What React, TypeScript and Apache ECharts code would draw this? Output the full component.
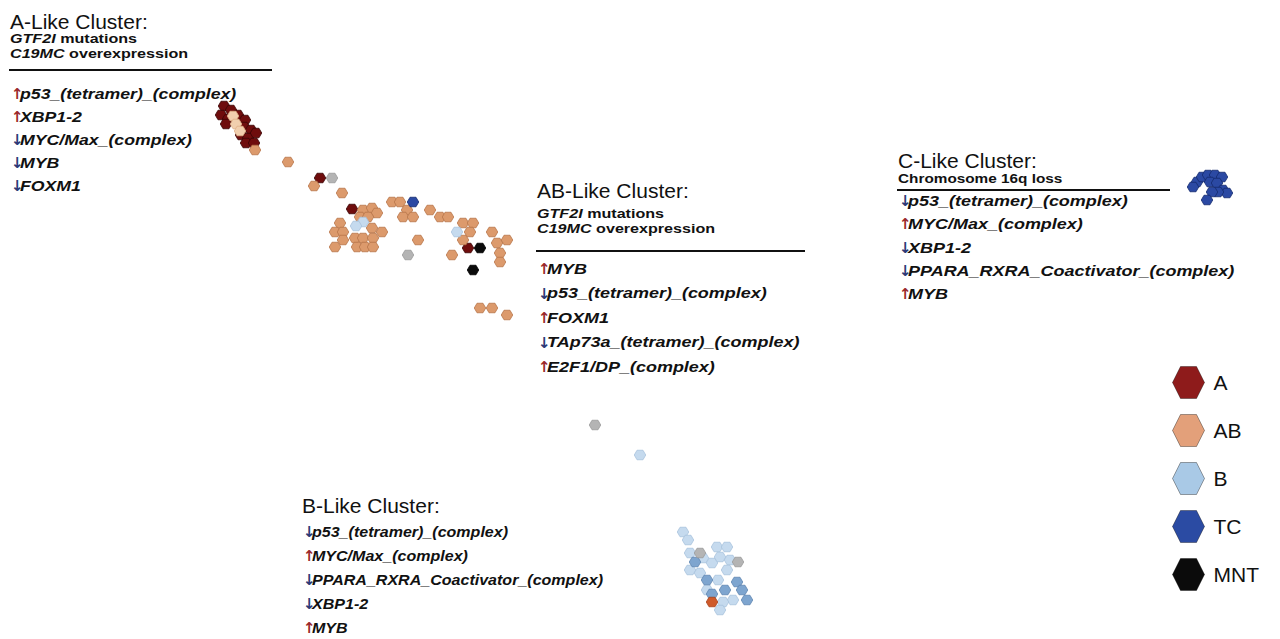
import React, { useEffect, useRef } from "react";
import * as echarts from "echarts";

// ---------- data ----------
const categories = ["A", "AB", "B", "TC", "MNT"];
const categoryColors = ["#8e1b1b", "#e3a07a", "#a9c9e6", "#2b4ba3", "#0b0b0b"];

const aPoints: number[][] = [
  [224, 106], [231, 110], [221, 115], [228, 119], [238, 115], [245, 120],
  [226, 124], [244, 127], [251, 130], [241, 135], [248, 138], [256, 133],
  [246, 143], [254, 143], [320, 178], [352, 209], [468, 248],
];
const abPalePoints: number[][] = [[233, 116], [236, 124], [240, 131]];
const abPoints: number[][] = [
  [255, 150], [288, 162], [314, 186], [342, 193], [392, 202], [400, 202],
  [407, 210], [403, 217], [413, 217], [430, 210], [440, 217], [448, 217],
  [463, 223], [473, 223], [470, 232], [492, 232], [463, 240], [418, 240],
  [452, 255], [497, 243], [507, 240], [500, 253], [500, 262], [480, 308],
  [492, 308], [507, 315],
  [363, 210], [372, 208], [377, 213], [360, 217], [368, 217], [340, 223],
  [335, 232], [343, 232], [372, 228], [382, 232], [355, 238], [363, 238],
  [373, 238], [343, 240], [335, 247], [357, 247], [365, 247], [373, 247],
];
const bPoints: number[][] = [
  [363, 222], [356, 226], [457, 232], [640, 455],
  [683, 532], [688, 540], [690, 553], [703, 558], [712, 563], [717, 547],
  [727, 547], [720, 557], [730, 560], [690, 570], [700, 573], [718, 580],
  [733, 600], [723, 602], [720, 610], [707, 590], [727, 570],
];
const bDarkPoints: number[][] = [
  [695, 562], [707, 580], [725, 590], [737, 582], [742, 590], [747, 600],
  [712, 594],
];
const greyPoints: number[][] = [
  [332, 178], [408, 255], [595, 425], [738, 562], [700, 553],
];
const orangePoints: number[][] = [[712, 602]];
const tcPoints: number[][] = [
  [413, 202],
  [1197, 182], [1202, 177], [1208, 175], [1215, 175], [1222, 177],
  [1210, 182], [1217, 183], [1223, 190], [1227, 193], [1218, 192],
  [1212, 192], [1207, 200], [1193, 187],
];
const mntPoints: number[][] = [[480, 248], [473, 270]];

const aTitle = "A-Like Cluster:";
const aSub = [["GTF2I", " mutations"], ["C19MC", " overexpression"]];
const aGenes = ["p53_(tetramer)_(complex)", "XBP1-2", "MYC/Max_(complex)", "MYB", "FOXM1"];
const aDirs = ["up", "up", "down", "down", "down"];

const abTitle = "AB-Like Cluster:";
const abSub = [["GTF2I", " mutations"], ["C19MC", " overexpression"]];
const abGenes = ["MYB", "p53_(tetramer)_(complex)", "FOXM1", "TAp73a_(tetramer)_(complex)", "E2F1/DP_(complex)"];
const abDirs = ["up", "down", "up", "down", "up"];

const cTitle = "C-Like Cluster:";
const cSub = [["", "Chromosome 16q loss"]];
const cGenes = ["p53_(tetramer)_(complex)", "MYC/Max_(complex)", "XBP1-2", "PPARA_RXRA_Coactivator_(complex)", "MYB"];
const cDirs = ["down", "up", "down", "down", "up"];

const bTitle = "B-Like Cluster:";
const bGenes = ["p53_(tetramer)_(complex)", "MYC/Max_(complex)", "PPARA_RXRA_Coactivator_(complex)", "XBP1-2", "MYB"];
const bDirs = ["down", "up", "down", "down", "up"];

// ---------- helpers ----------
const HEX = "path://M0,5 L2.9,0 L9.1,0 L12,5 L9.1,10 L2.9,10 Z";
const HEX_LEGEND = "path://M0,10 L5,0 L15,0 L20,10 L15,20 L5,20 Z";
const FONT = "'Liberation Sans', Arial, Helvetica, sans-serif";

function block(x: number, y: number, title: string, sub: string[][], genes: string[], dirs: string[],
  opts: { subY: number; subGap: number; subScale: number; lineY?: number; lineX2?: number; geneY: number; geneGap: number; geneScale: number }) {
  const els: any[] = [];
  els.push({
    type: "text", silent: true, x, y,
    style: { text: title, x: 0, y: 0, font: `21px ${FONT}`, fill: "#111", verticalAlign: "middle" },
  });
  sub.forEach((s, i) => {
    els.push({
      type: "text", silent: true, x, y: opts.subY + i * opts.subGap, scaleX: opts.subScale,
      style: {
        text: (s[0] ? `{i|${s[0]}}` : "") + `{b|${s[1]}}`,
        x: 0, y: 0, verticalAlign: "middle",
        rich: {
          i: { font: `italic bold 13px ${FONT}`, fill: "#111" },
          b: { font: `bold 13px ${FONT}`, fill: "#111" },
        },
      },
    });
  });
  if (opts.lineY !== undefined) {
    els.push({
      type: "line", silent: true,
      shape: { x1: x < 10 ? 0 : x - 1, y1: opts.lineY, x2: opts.lineX2, y2: opts.lineY },
      style: { stroke: "#111", lineWidth: 2 },
    });
  }
  genes.forEach((g, i) => {
    const gy = opts.geneY + i * opts.geneGap;
    els.push({
      type: "text", silent: true, x: x + 1, y: gy,
      style: {
        text: dirs[i] === "up" ? "↑" : "↓", x: 0, y: 0, verticalAlign: "middle",
        font: `bold 15px 'DejaVu Sans', sans-serif`, fill: dirs[i] === "up" ? "#9a2a2e" : "#2c3a78",
      },
    });
    els.push({
      type: "text", silent: true, x: x + 10, y: gy, scaleX: opts.geneScale,
      style: { text: g, x: 0, y: 0, verticalAlign: "middle", font: `italic bold 15px ${FONT}`, fill: "#111" },
    });
  });
  return els;
}

function scatter(name: string, data: number[][], color: string, border: string, size: number[] = [11.5, 9.5]) {
  return {
    type: "scatter", name, data, symbol: HEX, symbolSize: size,
    itemStyle: { color, borderColor: border, borderWidth: 0.8, opacity: 1 },
    silent: true,
  };
}

export default function App() {
  const ref = useRef<HTMLDivElement>(null);
  useEffect(() => {
    const chart = echarts.init(ref.current!, null, { renderer: "svg" });
    const graphics = [
      ...block(10, 21, aTitle, aSub, aGenes, aDirs, { subY: 39, subGap: 15, subScale: 1.24, lineY: 70, lineX2: 272, geneY: 94, geneGap: 23, geneScale: 1.18 }),
      ...block(537, 190, abTitle, abSub, abGenes, abDirs, { subY: 214, subGap: 15, subScale: 1.24, lineY: 251, lineX2: 805, geneY: 269, geneGap: 24.5, geneScale: 1.2 }),
      ...block(898, 160, cTitle, cSub, cGenes, cDirs, { subY: 178, subGap: 15, subScale: 1.18, lineY: 190, lineX2: 1170, geneY: 201, geneGap: 23.3, geneScale: 1.2 }),
      ...block(302, 505, bTitle, [], bGenes, bDirs, { subY: 0, subGap: 0, subScale: 1, geneY: 532, geneGap: 24, geneScale: 1.07 }),
    ];
    chart.setOption({
      animation: false,
      backgroundColor: "#ffffff",
      grid: { left: 0, right: 0, top: 0, bottom: 0 },
      xAxis: { type: "value", min: 0, max: 1280, show: false },
      yAxis: { type: "value", min: 0, max: 639, inverse: true, show: false },
      legend: {
        data: categories.map((c, i) => ({ name: c, icon: HEX_LEGEND, itemStyle: { color: categoryColors[i], borderColor: "rgba(0,0,0,0.35)", borderWidth: 1, opacity: 1 } })),
        orient: "vertical", left: 1167, top: 361, itemWidth: 32, itemHeight: 32, itemGap: 15,
        textStyle: { fontSize: 21, fontFamily: FONT, color: "#111", padding: [0, 0, 0, 4], lineHeight: 32 },
        selectedMode: false,
      },
      series: [
        scatter("A", aPoints, "#6f0d0d", "#3a0505"),
        scatter("AB", abPoints, "#dc9a6c", "#b8764a"),
        scatter("ABpale", abPalePoints, "#f1cfae", "#e0b28a"),
        scatter("B", bPoints, "#c5daee", "#a9c3dd"),
        scatter("Bdark", bDarkPoints, "#7ea5cf", "#5f86b2"),
        scatter("grey", greyPoints, "#b4b4b4", "#9a9a9a"),
        scatter("orange", orangePoints, "#cf5a2a", "#a9421c"),
        scatter("TC", tcPoints, "#2b49a3", "#142a6e"),
        scatter("MNT", mntPoints, "#0b0b0b", "#000"),
      ],
      graphic: graphics,
    });
    return () => chart.dispose();
  }, []);
  return <div ref={ref} style={{ position: "fixed", left: 0, top: 0, width: 1280, height: 639 }} />;
}
